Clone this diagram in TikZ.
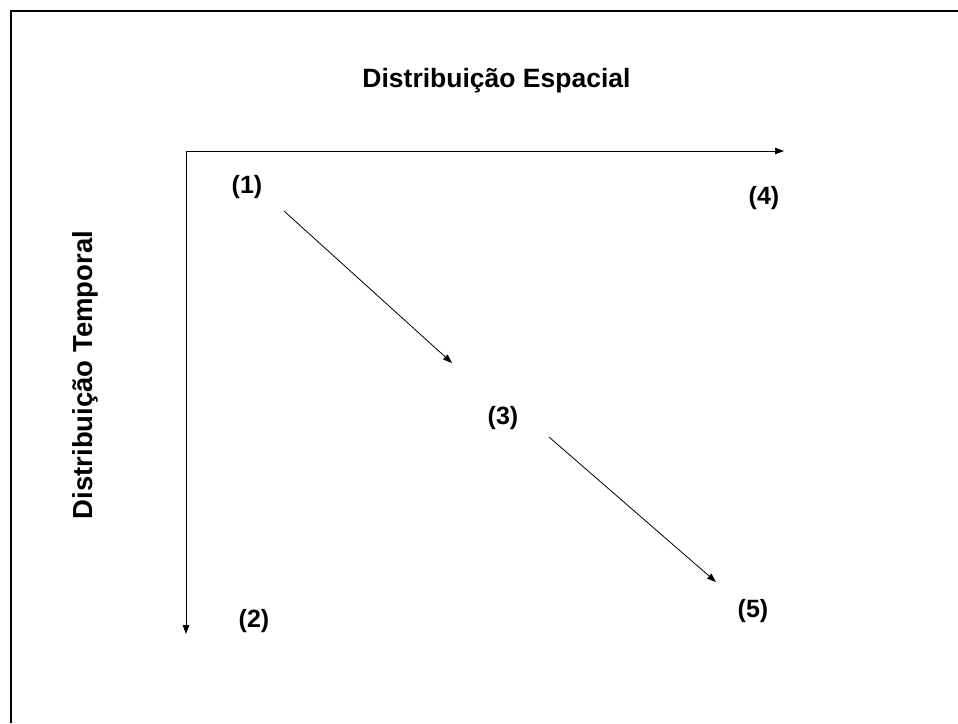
\documentclass[tikz,border=0pt]{standalone}
\usepackage{fontspec}
\setmainfont{Liberation Sans}
\usetikzlibrary{arrows.meta}
\begin{document}
\begin{tikzpicture}[x=1pt,y=-1pt,
  lbl/.style={font=\bfseries\fontsize{25}{29}\selectfont, inner sep=0pt, anchor=center},
  ttl/.style={font=\bfseries\fontsize{26.5}{30}\selectfont, inner sep=0pt},
  arr/.style={line width=0.8pt, -{Triangle[length=9pt,width=6.5pt]}}]
\useasboundingbox (0,0) rectangle (958,723);
\fill[white] (0,0) rectangle (958,723);
% frame (left and top edges)
\draw[line width=2.6pt] (11,723) -- (11,11) -- (958,11);
% titles
\node[ttl] (tS) at (496.5,81) {Distribuição Espacial};
\node[ttl, font=\bfseries\fontsize{27.5}{30}\selectfont, rotate=90] (tT) at (85,375) {Distribuição Temporal};
% axes
\coordinate (O) at (186,151);
\coordinate (Xe) at (784,151);
\coordinate (Ye) at (186,634);
\draw[arr] (O) -- (Xe);
\draw[arr] (O) -- (Ye);
% labels
\node[lbl] (n1) at (247,187) {(1)};
\node[lbl] (n2) at (254,621) {(2)};
\node[lbl] (n3) at (503,418) {(3)};
\node[lbl] (n4) at (764,198) {(4)};
\node[lbl] (n5) at (753,611) {(5)};
% diagonal arrows
\coordinate (a1s) at (284,211);
\coordinate (a1e) at (452,363);
\coordinate (a2s) at (549,437);
\coordinate (a2e) at (716,582);
\draw[arr] (a1s) -- (a1e);
\draw[arr] (a2s) -- (a2e);
\end{tikzpicture}
\end{document}
